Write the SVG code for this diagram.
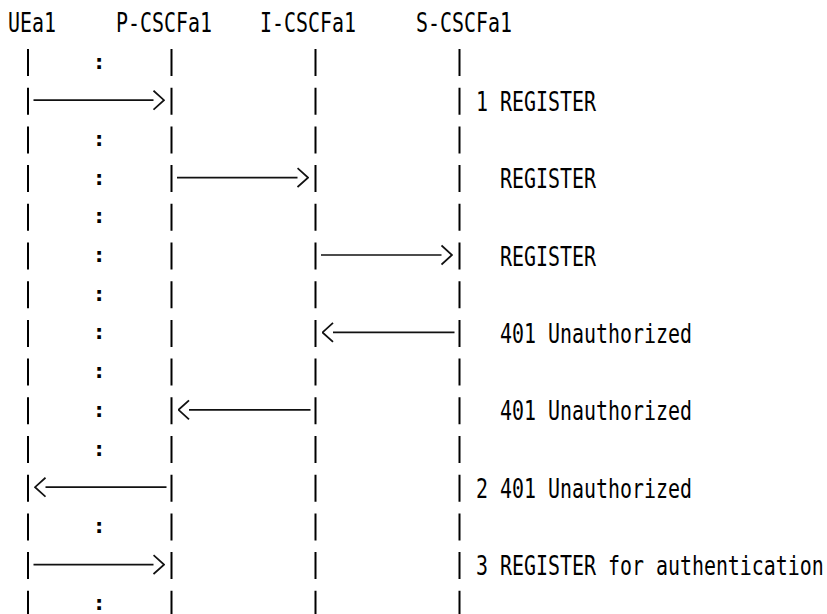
<svg xmlns="http://www.w3.org/2000/svg" width="827" height="614" viewBox="0 0 827 614">
<style>
  text { font-family: "DejaVu Sans Mono", "Liberation Mono", monospace; font-size: 27px; fill: #000; }
  .colon { font-size: 22px; text-anchor: middle; font-weight: bold; }
  .life { fill: none; stroke: #000; stroke-width: 2; }
  .msg { fill: none; stroke: #111; stroke-width: 1.7; marker-end: url(#chev); }
</style>
<defs>
  <marker id="chev" markerUnits="userSpaceOnUse" viewBox="0 0 12 22" refX="0.5" refY="11" markerWidth="12" markerHeight="22" orient="auto">
    <path d="M0.5,1.5 L11,11 L0.5,20.5" fill="none" stroke="#111" stroke-width="1.8"/>
  </marker>
</defs>
<rect width="827" height="614" fill="#fff"/>

<g id="UEa1">
  <text transform="translate(8,32) scale(0.7382,1)">UEa1</text>
  <path class="life" d="M28,49V76 M28,87.7V114.7 M28,126.4V153.4 M28,165.1V192.1 M28,203.8V230.8 M28,242.5V269.5 M28,281.2V308.2 M28,319.9V346.9 M28,358.6V385.6 M28,397.3V424.3 M28,436V463 M28,474.7V501.7 M28,513.4V540.4 M28,552.1V579.1 M28,590.8V617.8"/>
</g>
<g id="P-CSCFa1">
  <text transform="translate(116,32) scale(0.7382,1)">P-CSCFa1</text>
  <path class="life" d="M171.5,49V76 M171.5,87.7V114.7 M171.5,126.4V153.4 M171.5,165.1V192.1 M171.5,203.8V230.8 M171.5,242.5V269.5 M171.5,281.2V308.2 M171.5,319.9V346.9 M171.5,358.6V385.6 M171.5,397.3V424.3 M171.5,436V463 M171.5,474.7V501.7 M171.5,513.4V540.4 M171.5,552.1V579.1 M171.5,590.8V617.8"/>
</g>
<g id="I-CSCFa1">
  <text transform="translate(260,32) scale(0.7382,1)">I-CSCFa1</text>
  <path class="life" d="M315.5,49V76 M315.5,87.7V114.7 M315.5,126.4V153.4 M315.5,165.1V192.1 M315.5,203.8V230.8 M315.5,242.5V269.5 M315.5,281.2V308.2 M315.5,319.9V346.9 M315.5,358.6V385.6 M315.5,397.3V424.3 M315.5,436V463 M315.5,474.7V501.7 M315.5,513.4V540.4 M315.5,552.1V579.1 M315.5,590.8V617.8"/>
</g>
<g id="S-CSCFa1">
  <text transform="translate(416,32) scale(0.7382,1)">S-CSCFa1</text>
  <path class="life" d="M459.5,49V76 M459.5,87.7V114.7 M459.5,126.4V153.4 M459.5,165.1V192.1 M459.5,203.8V230.8 M459.5,242.5V269.5 M459.5,281.2V308.2 M459.5,319.9V346.9 M459.5,358.6V385.6 M459.5,397.3V424.3 M459.5,436V463 M459.5,474.7V501.7 M459.5,513.4V540.4 M459.5,552.1V579.1 M459.5,590.8V617.8"/>
</g>

<g id="gap-marks">
  <text class="colon" x="99" y="68.5">:</text>
  <text class="colon" x="99" y="145.9">:</text>
  <text class="colon" x="99" y="184.6">:</text>
  <text class="colon" x="99" y="223.3">:</text>
  <text class="colon" x="99" y="262">:</text>
  <text class="colon" x="99" y="300.7">:</text>
  <text class="colon" x="99" y="339.4">:</text>
  <text class="colon" x="99" y="378.1">:</text>
  <text class="colon" x="99" y="416.8">:</text>
  <text class="colon" x="99" y="455.5">:</text>
  <text class="colon" x="99" y="532.9">:</text>
  <text class="colon" x="99" y="610.3">:</text>
</g>

<g id="connectors">
  <g id="msg1">
    <path class="msg" d="M33.5,100.2H153.5"/>
    <text transform="translate(476,110.7) scale(0.7382,1)">1 REGISTER</text>
  </g>
  <g id="msg2">
    <path class="msg" d="M177,177.6H297.5"/>
    <text transform="translate(500,188.1) scale(0.7382,1)">REGISTER</text>
  </g>
  <g id="msg3">
    <path class="msg" d="M321,255H441.5"/>
    <text transform="translate(500,265.5) scale(0.7382,1)">REGISTER</text>
  </g>
  <g id="msg4">
    <path class="msg" d="M454.5,332.4H333"/>
    <text transform="translate(500,342.9) scale(0.7382,1)">401 Unauthorized</text>
  </g>
  <g id="msg5">
    <path class="msg" d="M310.5,409.8H189"/>
    <text transform="translate(500,420.3) scale(0.7382,1)">401 Unauthorized</text>
  </g>
  <g id="msg6">
    <path class="msg" d="M166.5,487.2H45.5"/>
    <text transform="translate(476,497.7) scale(0.7382,1)">2 401 Unauthorized</text>
  </g>
  <g id="msg7">
    <path class="msg" d="M33.5,564.6H153.5"/>
    <text transform="translate(476,575.1) scale(0.7382,1)">3 REGISTER for authentication</text>
  </g>
</g>
</svg>
